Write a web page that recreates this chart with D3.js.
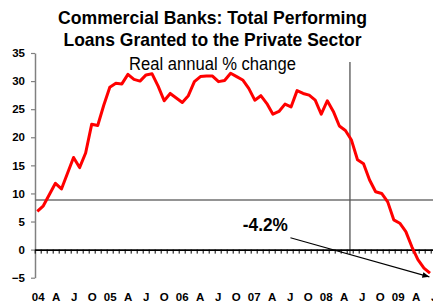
<!DOCTYPE html>
<html>
<head>
<meta charset="utf-8">
<script src="https://cdn.jsdelivr.net/npm/d3@7"></script>
<style>
  body { margin: 0; background: #fff; }
  svg { display: block; }
  text { font-family: "Liberation Sans", Arial, sans-serif; }
</style>
</head>
<body>
<div id="chart"></div>
<script>
// Monthly real annual % change, Jan 2004 .. Jun 2009
const loanGrowth = [
  6.8, 7.8, 9.8, 11.8, 10.8, 13.6, 16.4, 14.6, 17.2, 22.3, 22.1, 25.7,
  28.9, 29.6, 29.5, 31.2, 30.3, 30.0, 31.1, 31.3, 29.1, 26.5, 27.8, 27.0,
  26.2, 27.4, 29.9, 30.8, 30.9, 30.9, 29.9, 30.1, 31.4, 30.8, 30.2, 28.7,
  26.6, 27.4, 26.0, 24.1, 24.6, 25.9, 25.4, 28.3, 27.8, 27.5, 26.6, 24.1,
  26.5, 24.6, 22.0, 21.2, 19.5, 16.0, 15.3, 12.4, 10.3, 10.0, 8.5, 5.3,
  4.7, 3.2, 0.5, -1.8, -3.3, -4.2
];

// Quarterly labels, one every 3 months from Jan 2004
const tickLabels = [
  '04', 'A', 'J', 'O', '05', 'A', 'J', 'O', '06', 'A', 'J', 'O',
  '07', 'A', 'J', 'O', '08', 'A', 'J', 'O', '09', 'A', 'J'
];
const yTicks = [-5, 0, 5, 10, 15, 20, 25, 30, 35];

// Reference lines and annotation
const refLevel = 8.84;       // horizontal line
const refMonth = 51.75;      // vertical line (between Apr and May 08)
const refTop = 33.4;
const lastLabel = '-4.2%';
const labelPos = {month: 37.75, value: 3.3};
const arrowFrom = {month: 41.9, value: 2.1};
const arrowTo = {month: 64.9, value: -4.85};

const titles = {
  line1: 'Commercial Banks: Total Performing',
  line2: 'Loans Granted to the Private Sector',
  sub: 'Real annual % change'
};

const W = 433, H = 304;

const svg = d3.select('#chart').append('svg')
    .attr('width', W)
    .attr('height', H);

// Scales: data points, and the month axis (labels + ticks)
const x = d3.scaleLinear()
    .domain([0, loanGrowth.length - 1])
    .range([37.3, 430]);
const xMonth = d3.scaleLinear()
    .domain([0, 66])
    .range([37.7, 433.7]);
const y = d3.scaleLinear()
    .domain([-5, 35])
    .range([277.7, 53]);

// Titles
svg.append('text')
    .attr('x', 212.5).attr('y', 24)
    .attr('text-anchor', 'middle')
    .attr('font-weight', 'bold')
    .attr('font-size', 18.5)
    .attr('textLength', 309)
    .attr('lengthAdjust', 'spacingAndGlyphs')
    .text(titles.line1);
svg.append('text')
    .attr('x', 212.5).attr('y', 46.3)
    .attr('text-anchor', 'middle')
    .attr('font-weight', 'bold')
    .attr('font-size', 18.5)
    .attr('textLength', 298)
    .attr('lengthAdjust', 'spacingAndGlyphs')
    .text(titles.line2);
svg.append('text')
    .attr('x', 212.5).attr('y', 70)
    .attr('text-anchor', 'middle')
    .attr('font-size', 17.5)
    .attr('textLength', 167)
    .attr('lengthAdjust', 'spacingAndGlyphs')
    .text(titles.sub);

// Y axis
const yAxisGroup = svg.append('g')
    .attr('transform', 'translate(35,0)')
    .call(d3.axisLeft(y).tickValues(yTicks).tickSize(4).tickSizeOuter(0).tickPadding(6));
yAxisGroup.select('.domain').attr('stroke', '#808080').attr('stroke-width', 1.5);
yAxisGroup.selectAll('.tick line').attr('stroke', '#808080').attr('stroke-width', 1.2);
yAxisGroup.selectAll('.tick text')
    .attr('font-size', 11.5)
    .attr('font-weight', 'bold')
    .attr('font-family', '"Liberation Sans", Arial, sans-serif')
    .attr('fill', '#000');

// Horizontal reference line
svg.append('line')
    .attr('x1', 35).attr('x2', W)
    .attr('y1', y(refLevel)).attr('y2', y(refLevel))
    .attr('stroke', '#707070')
    .attr('stroke-width', 1.5);

// Vertical reference line
svg.append('line')
    .attr('x1', x(refMonth)).attr('x2', x(refMonth))
    .attr('y1', y(refTop)).attr('y2', y(-0.8))
    .attr('stroke', '#555')
    .attr('stroke-width', 1.3);

// Zero line with monthly tick marks at band edges
const xEdge = xMonth.copy().domain([-0.5, 67]).range([xMonth(-0.5), xMonth(67)]);
const zeroAxis = svg.append('g')
    .attr('transform', `translate(0,${y(0)})`)
    .call(d3.axisBottom(xEdge)
      .tickValues(d3.range(-0.5, 67, 1))
      .tickSize(4).tickSizeOuter(0)
      .tickFormat(''));
zeroAxis.select('.domain').attr('stroke', '#000').attr('stroke-width', 1.6);
zeroAxis.selectAll('.tick line').attr('stroke', '#000').attr('stroke-width', 1);

// Quarter labels along the bottom
const xLabels = svg.append('g')
    .attr('transform', 'translate(0,289.5)')
    .call(d3.axisBottom(xMonth)
      .tickValues(tickLabels.map((d, i) => i * 3))
      .tickSize(0)
      .tickPadding(3)
      .tickFormat((d, i) => tickLabels[i]));
xLabels.select('.domain').remove();
xLabels.selectAll('.tick text')
    .attr('font-size', 11.5)
    .attr('font-weight', 'bold')
    .attr('font-family', '"Liberation Sans", Arial, sans-serif')
    .attr('fill', '#000');

// Data line
const line = d3.line()
    .x((d, i) => x(i))
    .y(d => y(d));
svg.append('path')
    .datum(loanGrowth)
    .attr('d', line)
    .attr('fill', 'none')
    .attr('stroke', '#ff0000')
    .attr('stroke-width', 3)
    .attr('stroke-linejoin', 'round');

// Annotation
svg.append('defs').append('marker')
    .attr('id', 'arrow')
    .attr('viewBox', '0 0 10 10')
    .attr('refX', 10).attr('refY', 5)
    .attr('markerWidth', 7).attr('markerHeight', 7)
    .attr('markerUnits', 'userSpaceOnUse')
    .attr('orient', 'auto')
  .append('path')
    .attr('d', 'M0,1 L10,5 L0,9 Z')
    .attr('fill', '#000');

svg.append('line')
    .attr('x1', x(arrowFrom.month)).attr('y1', y(arrowFrom.value))
    .attr('x2', x(arrowTo.month)).attr('y2', y(arrowTo.value))
    .attr('stroke', '#000')
    .attr('stroke-width', 1.1)
    .attr('marker-end', 'url(#arrow)');

svg.append('text')
    .attr('x', x(labelPos.month))
    .attr('y', y(labelPos.value))
    .attr('text-anchor', 'middle')
    .attr('font-weight', 'bold')
    .attr('font-size', 18)
    .attr('textLength', 45)
    .attr('lengthAdjust', 'spacingAndGlyphs')
    .text(lastLabel);
</script>
</body>
</html>
